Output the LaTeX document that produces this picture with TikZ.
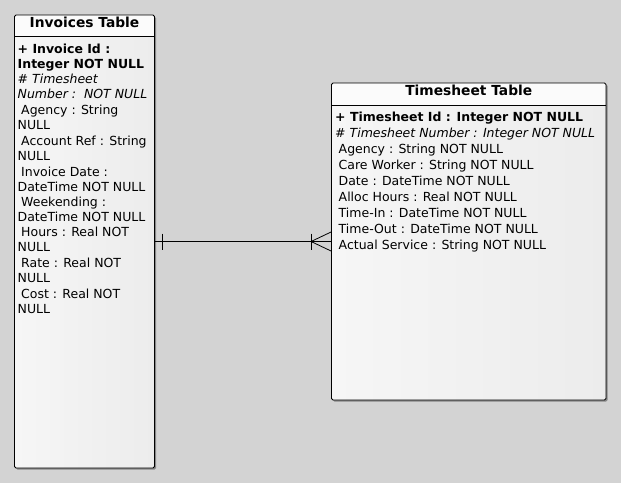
\documentclass[tikz,border=0pt]{standalone}
\usepackage{fontspec}
\setmainfont{DejaVu Sans}
\usetikzlibrary{positioning,shadows}

\definecolor{canvasgray}{HTML}{D3D3D3}
\definecolor{bodyleft}{HTML}{F6F6F6}
\definecolor{bodyright}{HTML}{ECECEC}
\definecolor{headfill}{HTML}{FBFBFB}
\definecolor{shadowgray}{HTML}{7A7A7A}

\tikzset{
	tablebox/.style={draw=black, line width=0.9pt, rounded corners=1.5pt,
		left color=bodyleft, right color=bodyright, inner sep=0pt,
		drop shadow={shadow xshift=1.5pt, shadow yshift=-1.5pt, fill=shadowgray, opacity=0.85},
		path picture={\fill[headfill] (path picture bounding box.north west)
			rectangle ([yshift=-22pt]path picture bounding box.north east);}},
	tabletitle/.style={anchor=base, inner sep=0pt, font=\fontsize{13.8pt}{16pt}\selectfont\bfseries},
	fieldtext/.style={anchor=base west, inner sep=0pt, font=\fontsize{12.5pt}{15pt}\selectfont},
	relline/.style={line width=0.8pt, black}
}

\begin{document}
\begin{tikzpicture}[x=1pt,y=-1pt]
	\fill[canvasgray] (0,0) rectangle (621,483);
	\useasboundingbox (0,0) rectangle (621,483);

	% tables
	\node[tablebox, minimum width=140pt, minimum height=453pt] (invoices) at (84.5,241.5) {};
	\node[tablebox, minimum width=274.5pt, minimum height=317pt] (timesheet) at (468.75,241.5) {};
	\draw[line width=0.9pt] ([yshift=-22pt]invoices.north west) -- ([yshift=-22pt]invoices.north east);
	\draw[line width=0.9pt] ([yshift=-22.5pt]timesheet.north west) -- ([yshift=-22.5pt]timesheet.north east);
	\node[tabletitle] (invoices-title) at ([yshift=-13pt]invoices.north) {Invoices Table};
	\node[tabletitle] (timesheet-title) at ([yshift=-13pt]timesheet.north) {Timesheet Table};

	% invoice fields
	\foreach \xx/\yy/\txt [count=\i] in {
		17.5/53.5/{\bfseries + Invoice Id :}, 17.5/68/{\bfseries Integer NOT NULL},
		17.5/83.5/{\itshape \# Timesheet}, 17.5/98.5/{\itshape Number :\ \ NOT NULL},
		21/114.5/{Agency : String}, 17.5/129.5/{NULL},
		21/145/{Account Ref : String}, 17.5/160/{NULL},
		21/176/{Invoice Date :}, 17.5/191/{DateTime NOT NULL},
		21/206/{Weekending :}, 17.5/221/{DateTime NOT NULL},
		21/236.5/{Hours : Real NOT}, 17.5/251.5/{NULL},
		21/267.5/{Rate : Real NOT}, 17.5/282.5/{NULL},
		21/298/{Cost : Real NOT}, 17.5/313/{NULL}}
		\node[fieldtext] (inv-\i) at (\xx,\yy) {\txt};

	% timesheet fields
	\foreach \xx/\yy/\txt [count=\i] in {
		335/121.5/{\bfseries + Timesheet Id : Integer NOT NULL},
		335/137.5/{\itshape \# Timesheet Number : Integer NOT NULL},
		338.5/153.5/{Agency : String NOT NULL},
		338.5/169.5/{Care Worker : String NOT NULL},
		338.5/185.5/{Date : DateTime NOT NULL},
		338.5/201.5/{Alloc Hours : Real NOT NULL},
		338.5/217.5/{Time-In : DateTime NOT NULL},
		338.5/233.5/{Time-Out : DateTime NOT NULL},
		338.5/249.5/{Actual Service : String NOT NULL}}
		\node[fieldtext] (ts-\i) at (\xx,\yy) {\txt};

	% relation: one to many
	\coordinate (crow) at ([xshift=-20pt]timesheet.west);
	\draw[relline] (invoices.east) -- (timesheet.west);
	\draw[relline] ([xshift=7pt,yshift=8pt]invoices.east) -- ([xshift=7pt,yshift=-8pt]invoices.east);
	\draw[relline] ([yshift=8pt]crow) -- ([yshift=-8pt]crow);
	\draw[relline] ([yshift=9.5pt]timesheet.west) -- (crow) -- ([yshift=-9.5pt]timesheet.west);
\end{tikzpicture}
\end{document}
